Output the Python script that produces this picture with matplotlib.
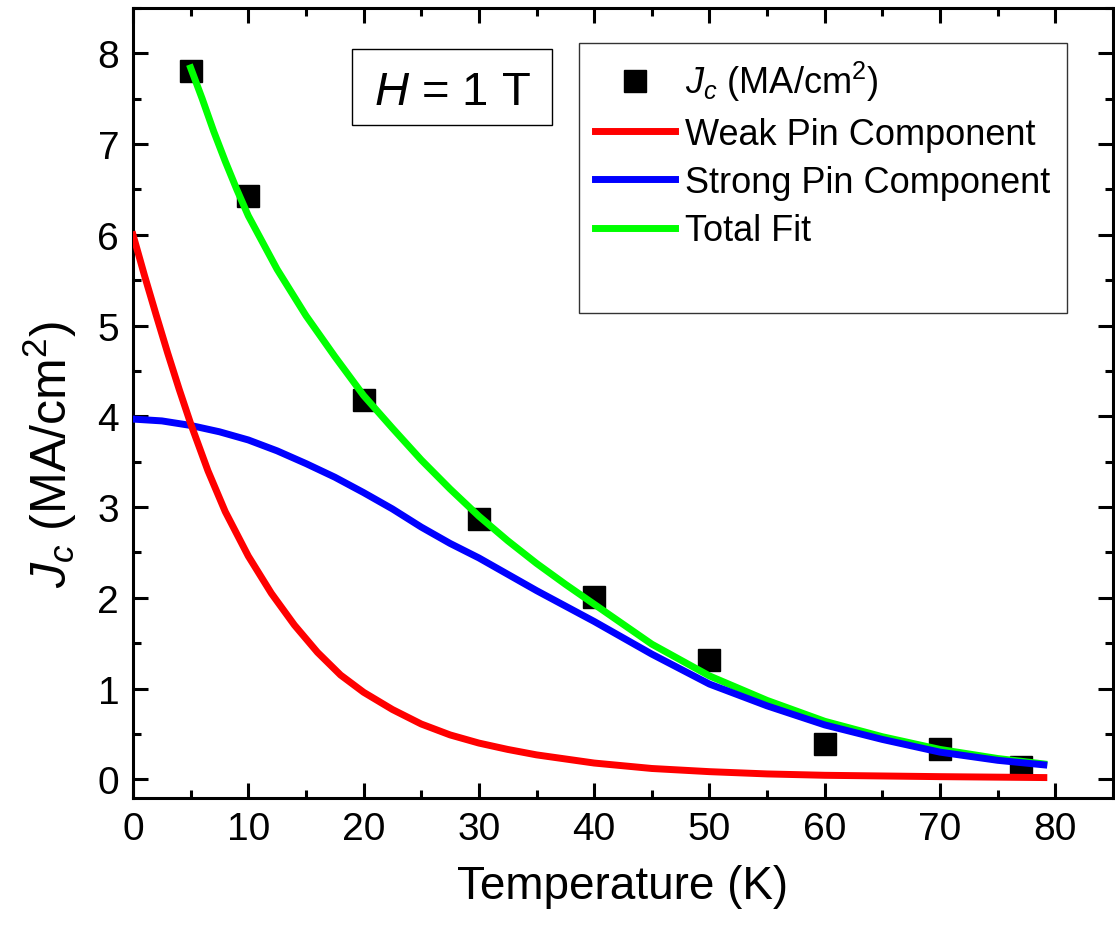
import matplotlib
matplotlib.use("Agg")
import matplotlib.pyplot as plt
from matplotlib.ticker import MultipleLocator
from matplotlib.lines import Line2D
from matplotlib.patches import Rectangle

plt.rcParams['font.family'] = ['Liberation Sans', 'DejaVu Sans']
plt.rcParams['mathtext.fontset'] = 'custom'
plt.rcParams['mathtext.rm'] = 'Liberation Sans'
plt.rcParams['mathtext.it'] = 'Liberation Sans:italic'

# measured Jc (MA/cm^2)
temp_meas = [5, 10, 20, 30, 40, 50, 60, 70, 77]
jc_meas = [7.81, 6.43, 4.18, 2.87, 2.01, 1.31, 0.39, 0.33, 0.14]

# weak pin component
temp_weak = [0, 1, 2, 3, 4, 5, 6.5, 8, 10, 12, 14, 16, 18, 20, 22.5, 25,
             27.5, 30, 32.5, 35, 40, 45, 50, 55, 60, 70, 79]
jc_weak = [6.0, 5.55, 5.12, 4.7, 4.3, 3.92, 3.4, 2.95, 2.46, 2.05, 1.7, 1.4,
           1.15, 0.96, 0.77, 0.61, 0.49, 0.4, 0.33, 0.27, 0.18, 0.12, 0.085,
           0.06, 0.045, 0.03, 0.02]

# strong pin component
temp_strong = [0, 2.5, 5, 7.5, 10, 12.5, 15, 17.5, 20, 22.5, 25, 27.5, 30,
               32.5, 35, 37.5, 40, 45, 50, 55, 60, 65, 70, 75, 79]
jc_strong = [3.97, 3.95, 3.9, 3.83, 3.74, 3.62, 3.48, 3.33, 3.16, 2.98, 2.78,
             2.6, 2.44, 2.26, 2.08, 1.91, 1.74, 1.38, 1.05, 0.81, 0.6, 0.44,
             0.3, 0.21, 0.16]

# total fit
temp_total = [5, 6, 7, 8, 9, 10, 12.5, 15, 17.5, 20, 22.5, 25, 27.5, 30, 32.5,
              35, 37.5, 40, 45, 50, 55, 60, 65, 70, 75, 79]
jc_total = [7.84, 7.5, 7.14, 6.81, 6.5, 6.21, 5.62, 5.11, 4.66, 4.23, 3.87,
            3.52, 3.2, 2.9, 2.63, 2.38, 2.15, 1.93, 1.49, 1.14, 0.87, 0.64,
            0.47, 0.33, 0.23, 0.17]

fig = plt.figure(figsize=(11.15, 9.45), dpi=100)
ax = fig.add_axes([0.1193, 0.155, 0.8789, 0.8355])

ax.plot(temp_meas, jc_meas, 's', color='black', markersize=16, zorder=2)
ax.plot(temp_total, jc_total, '-', color='#00ff00', lw=5, zorder=3)
ax.plot(temp_strong, jc_strong, '-', color='#0000ff', lw=5, zorder=4)
ax.plot(temp_weak, jc_weak, '-', color='#ff0000', lw=5, zorder=5)

ax.set_xlim(0, 85)
ax.set_ylim(-0.2, 8.5)
ax.xaxis.set_major_locator(MultipleLocator(10))
ax.xaxis.set_minor_locator(MultipleLocator(5))
ax.yaxis.set_major_locator(MultipleLocator(1))
ax.yaxis.set_minor_locator(MultipleLocator(0.5))
ax.tick_params(which='both', direction='in', top=True, right=True,
               width=2.2, labelsize=28, pad=10)
ax.tick_params(which='major', length=11)
ax.tick_params(which='minor', length=5.5)
for sp in ax.spines.values():
    sp.set_linewidth(2.2)

ax.set_xlabel('Temperature (K)', fontsize=33, labelpad=12)
ax.set_ylabel(r'$J_c$ (MA/cm$^2$)', fontsize=36)
ax.yaxis.set_label_coords(-0.055, 0.435)

# field label box
ax.add_patch(Rectangle((0.2235, 0.852), 0.2041, 0.096, transform=ax.transAxes,
                       fc='white', ec='black', lw=1, zorder=6))
ax.text(0.3259, 0.8784, r'$H$ = 1 T', transform=ax.transAxes, fontsize=34,
        ha='center', va='baseline', zorder=7)

handles = [
    Line2D([], [], ls='none', marker='s', color='black', markersize=16),
    Line2D([], [], color='#ff0000', lw=5),
    Line2D([], [], color='#0000ff', lw=5),
    Line2D([], [], color='#00ff00', lw=5),
    Line2D([], [], ls='none'),
]
labels = [r'$J_c$ (MA/cm$^2$)', 'Weak Pin Component', 'Strong Pin Component',
          'Total Fit', ' ']
leg = ax.legend(handles, labels, loc='upper right',
                bbox_to_anchor=(0.953, 0.956), borderaxespad=0, fontsize=26,
                frameon=True, fancybox=False, handlelength=2.2,
                handletextpad=0.3, labelspacing=0.37, borderpad=0.45)
leg.get_frame().set_edgecolor('black')
leg.get_frame().set_linewidth(1)

fig.savefig('out.png', dpi=100)
